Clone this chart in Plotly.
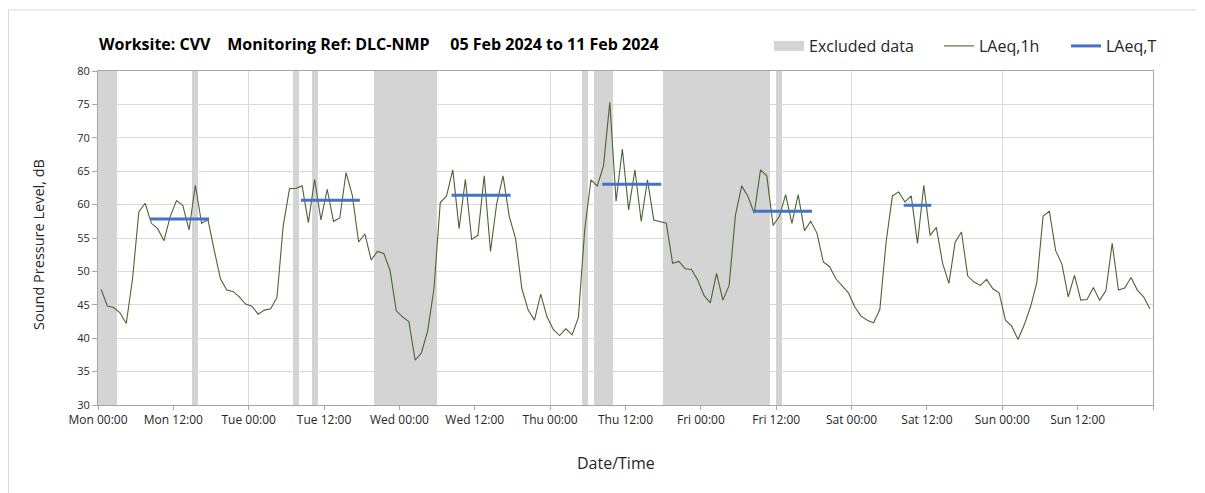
import plotly.graph_objects as go

# Hourly LAeq,1h values (hour index 0..167 from Mon 00:00, plotted at mid-hour)
laeq_1h = [
    47.3, 44.8, 44.6, 43.8, 42.2, 48.9, 58.9, 60.2, 57.2, 56.4, 54.6, 58.2,
    60.6, 59.9, 56.2, 62.9, 57.2, 57.8, 53.2, 48.9, 47.2, 47.0, 46.2, 45.1,
    44.8, 43.6, 44.2, 44.4, 46.1, 56.9, 62.4, 62.4, 62.8, 57.3, 63.8, 57.7,
    62.3, 57.5, 58.0, 64.8, 61.4, 54.4, 55.6, 51.7, 53.0, 52.7, 50.2, 44.1,
    43.2, 42.5, 36.7, 37.8, 41.1, 47.4, 60.3, 61.3, 65.2, 56.4, 63.8, 54.8,
    55.4, 64.3, 53.0, 60.2, 64.3, 58.2, 54.9, 47.4, 44.2, 42.7, 46.6, 43.2,
    41.3, 40.4, 41.4, 40.5, 43.1, 56.2, 63.7, 62.8, 65.8, 75.3, 60.5, 68.3,
    59.2, 65.2, 57.5, 63.7, 57.7, 57.4, 57.2, 51.2, 51.5, 50.4, 50.3, 48.7,
    46.4, 45.3, 49.7, 45.7, 47.9, 58.4, 62.8, 61.2, 58.7, 65.2, 64.3, 56.9,
    58.2, 61.5, 57.2, 61.5, 56.1, 57.5, 55.7, 51.4, 50.7, 48.9, 47.9, 46.8,
    44.7, 43.3, 42.7, 42.3, 44.3, 54.4, 61.3, 61.9, 60.4, 61.3, 54.2, 62.9,
    55.4, 56.6, 51.2, 48.2, 54.4, 55.9, 49.3, 48.4, 47.9, 48.8, 47.4, 46.8,
    42.7, 41.8, 39.8, 42.0, 44.7, 48.3, 58.3, 59.0, 53.1, 51.1, 46.2, 49.4,
    45.7, 45.8, 47.6, 45.7, 47.1, 54.2, 47.2, 47.5, 49.1, 47.2, 46.2, 44.4,
]
hours = [h + 0.5 for h in range(len(laeq_1h))]

# LAeq,T periods (start hour, end hour, level)
laeq_t_start = [8.3, 32.3, 56.3, 80.3, 104.3, 128.3]
laeq_t_end = [17.7, 41.7, 65.7, 89.7, 113.7, 132.7]
laeq_t_level = [57.85, 60.65, 61.4, 63.05, 59.0, 59.9]

# Excluded data periods (start hour, end hour)
excl_start = [0, 15, 31, 34, 44, 77, 79, 90, 108]
excl_end = [3, 16, 32, 35, 54, 78, 82, 107, 109]

tick_vals = list(range(0, 169, 12))
days = ["Mon", "Tue", "Wed", "Thu", "Fri", "Sat", "Sun"]
tick_text = []
for d in days:
    tick_text += [d + " 00:00", d + " 12:00"]
tick_text.append("")

y_min, y_max = 30, 80

FONT = "Open Sans"
TXT = "#262626"
EXCL = "#d4d4d4"
GREEN = "#4a6630"
BLUE = "#4472c4"

# page body has an 8px margin; figure geometry below is in figure pixels
W, H = 1197, 485
L, R, T, B = 90, 52, 63, 88
PW, PH = W - L - R, H - T - B


def px_x(x):
    return (x - L) / PW


def px_y(y):
    return 1 - (y - T) / PH


fig = go.Figure()

fig.add_trace(go.Bar(
    x=[(s + e) / 2 for s, e in zip(excl_start, excl_end)],
    y=[y_max - y_min] * len(excl_start),
    base=[y_min] * len(excl_start),
    width=[e - s for s, e in zip(excl_start, excl_end)],
    marker=dict(color=EXCL, line=dict(width=0)),
    name="Excluded data", showlegend=False,
    hoverinfo="skip",
))
# legend-only entry drawn as a wide grey block
fig.add_trace(go.Scatter(
    x=[None], y=[None], mode="lines",
    line=dict(color=EXCL, width=10),
    name="Excluded data", legend="legend",
))

fig.add_trace(go.Scatter(
    x=hours, y=laeq_1h, mode="lines",
    line=dict(color=GREEN, width=1.1),
    name="LAeq,1h", legend="legend2",
))

for i, (s, e, v) in enumerate(zip(laeq_t_start, laeq_t_end, laeq_t_level)):
    fig.add_trace(go.Scatter(
        x=[s, e], y=[v, v], mode="lines",
        line=dict(color=BLUE, width=3),
        name="LAeq,T", legendgroup="laeqt", showlegend=(i == 0),
        legend="legend3",
    ))

leg_common = dict(
    orientation="h", xanchor="left", yanchor="middle", y=px_y(38),
    font=dict(size=16, color=TXT, family=FONT), bgcolor="rgba(0,0,0,0)",
    itemwidth=30,
)

fig.update_layout(
    width=W, height=H,
    margin=dict(l=L, r=R, t=T, b=B),
    paper_bgcolor="white", plot_bgcolor="white",
    font=dict(family=FONT, color=TXT, size=11),
    barmode="overlay", bargap=0,
    showlegend=True,
    legend=dict(x=px_x(761), **leg_common),
    legend2=dict(x=px_x(931), **leg_common),
    legend3=dict(x=px_x(1058), **leg_common),
    xaxis=dict(
        range=[0, 168], tickmode="array", tickvals=tick_vals, ticktext=tick_text,
        showgrid=False, zeroline=False,
        showline=True, linecolor="#a6a6a6", linewidth=1, mirror=True,
        ticks="outside", ticklen=4, tickcolor="#a6a6a6",
        tickfont=dict(size=12, color=TXT),
        minor=dict(tickmode="array", tickvals=list(range(24, 168, 24)),
                   showgrid=True, gridcolor="#d9d9d9", gridwidth=1, ticks=""),
    ),
    yaxis=dict(
        range=[y_min, y_max], dtick=5, tick0=30,
        showgrid=True, gridcolor="#d9d9d9", gridwidth=1, zeroline=False,
        showline=True, linecolor="#a6a6a6", linewidth=1, mirror=True,
        ticks="outside", ticklen=5, tickcolor="#a6a6a6",
        tickfont=dict(size=11, color=TXT),
    ),
    annotations=[
        dict(
            text="Worksite: CVV\u00a0\u00a0\u00a0 Monitoring Ref: DLC-NMP\u00a0\u00a0\u00a0\u00a0 05 Feb 2024 to 11 Feb 2024",
            xref="paper", yref="paper", x=px_x(89), y=px_y(36),
            xanchor="left", yanchor="middle", showarrow=False,
            font=dict(size=16, color="#000000", family=FONT, weight="bold"),
        ),
        dict(
            text="Date/Time", xref="paper", yref="paper",
            x=px_x(608), y=px_y(455), xanchor="center", yanchor="middle",
            showarrow=False, font=dict(size=16, color=TXT, family=FONT),
        ),
        dict(
            text="Sound Pressure Level, dB", xref="paper", yref="paper",
            x=px_x(30), y=px_y(237), xanchor="center", yanchor="middle",
            textangle=-90, showarrow=False, font=dict(size=14.5, color=TXT, family=FONT),
        ),
    ],
    shapes=[dict(
        type="rect", xref="paper", yref="paper",
        x0=px_x(0.5), x1=px_x(W + 20),
        y0=px_y(H + 20), y1=px_y(2),
        line=dict(color="#d9d9d9", width=1), fillcolor="rgba(0,0,0,0)", layer="below",
    )],
)

fig.write_html("out.html")
